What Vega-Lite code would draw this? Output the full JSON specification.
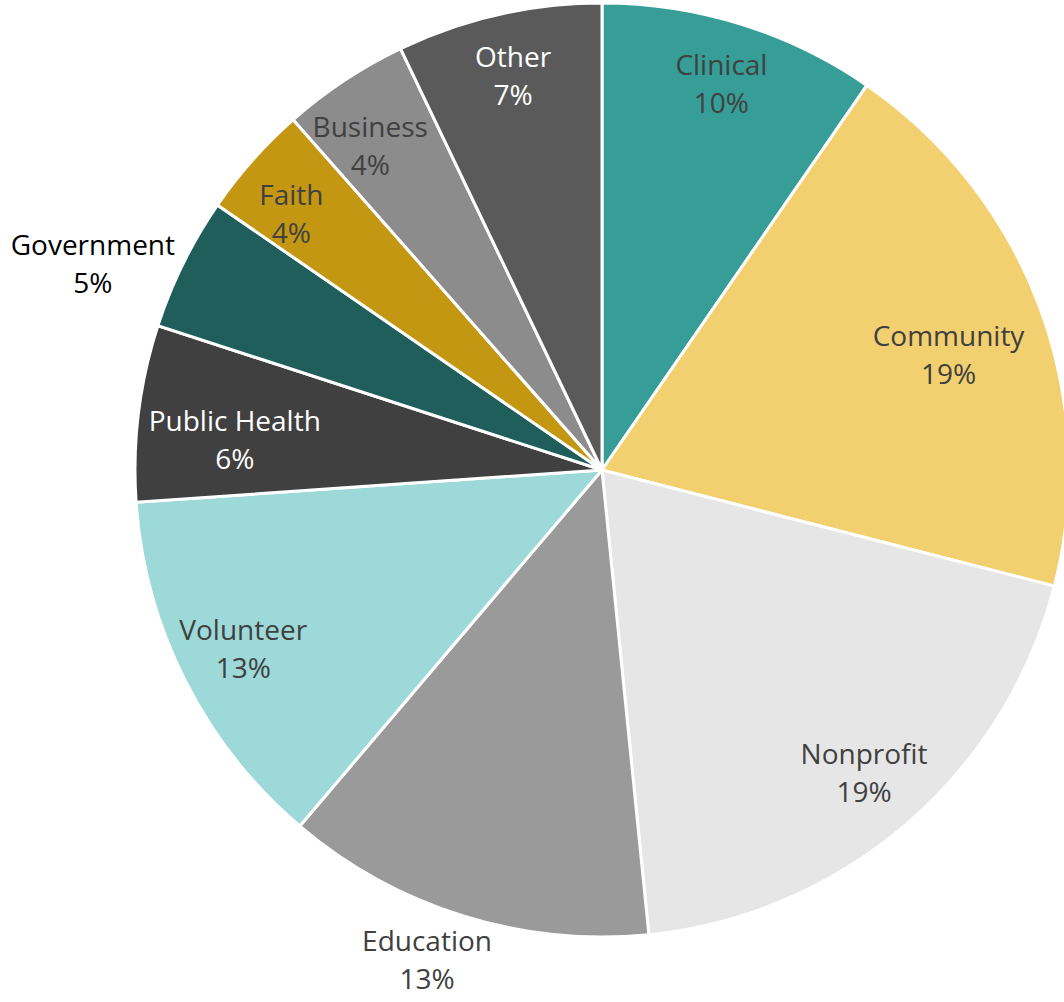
{
  "$schema": "https://vega.github.io/schema/vega-lite/v6.json",
  "width": 924,
  "height": 940,
  "autosize": "none",
  "padding": {"left": 140, "top": 0, "right": 0, "bottom": 62},
  "background": "white",
  "view": {"stroke": null},
  "data": {
    "values": [
      {"idx": 1, "name": "Clinical", "share": 0.096},
      {"idx": 2, "name": "Community", "share": 0.194},
      {"idx": 3, "name": "Nonprofit", "share": 0.194},
      {"idx": 4, "name": "Education", "share": 0.128},
      {"idx": 5, "name": "Volunteer", "share": 0.127},
      {"idx": 6, "name": "Public Health", "share": 0.061},
      {"idx": 7, "name": "Government", "share": 0.046},
      {"idx": 8, "name": "Faith", "share": 0.039},
      {"idx": 9, "name": "Business", "share": 0.044},
      {"idx": 10, "name": "Other", "share": 0.071}
    ]
  },
  "encoding": {
    "theta": {"field": "share", "type": "quantitative", "stack": true},
    "order": {"field": "idx", "type": "quantitative"}
  },
  "layer": [
    {
      "mark": {"type": "arc", "outerRadius": 467, "stroke": "white", "strokeWidth": 3},
      "encoding": {
        "color": {
          "field": "name", "type": "nominal", "legend": null,
          "scale": {
            "domain": ["Clinical", "Community", "Nonprofit", "Education", "Volunteer", "Public Health", "Government", "Faith", "Business", "Other"],
            "range": ["#369E97", "#F2D06F", "#E6E6E6", "#9A9A9A", "#9DD9D9", "#404040", "#205E5B", "#C49712", "#8C8C8C", "#5A5A5A"]
          }
        }
      }
    },
    {
      "mark": {"type": "text", "radius": 402, "dy": -19, "font": "Open Sans", "fontSize": 28, "baseline": "middle", "align": "center"},
      "encoding": {
        "text": {"condition": {"test": "indexof(['Clinical','Nonprofit','Volunteer','Other'], datum.name) < 0", "value": ""}, "field": "name"},
        "color": {"condition": {"test": "datum.name === 'Other'", "value": "#ffffff"}, "value": "#404040"}
      }
    },
    {
      "mark": {"type": "text", "radius": 402, "dy": 19, "font": "Open Sans", "fontSize": 28, "baseline": "middle", "align": "center"},
      "encoding": {
        "text": {"condition": {"test": "indexof(['Clinical','Nonprofit','Volunteer','Other'], datum.name) < 0", "value": ""}, "field": "share", "format": ".0%"},
        "color": {"condition": {"test": "datum.name === 'Other'", "value": "#ffffff"}, "value": "#404040"}
      }
    },
    {
      "mark": {"type": "text", "radius": 402, "dx": -10, "dy": -6, "font": "Open Sans", "fontSize": 28, "baseline": "middle", "align": "center", "color": "#404040"},
      "encoding": {
        "text": {"condition": {"test": "datum.name !== 'Faith' && datum.name !== 'Business'", "value": ""}, "field": "name"}
      }
    },
    {
      "mark": {"type": "text", "radius": 402, "dx": -10, "dy": 32, "font": "Open Sans", "fontSize": 28, "baseline": "middle", "align": "center", "color": "#404040"},
      "encoding": {
        "text": {"condition": {"test": "datum.name !== 'Faith' && datum.name !== 'Business'", "value": ""}, "field": "share", "format": ".0%"}
      }
    },
    {
      "mark": {"type": "text", "radius": 370, "dy": -2, "font": "Open Sans", "fontSize": 28, "baseline": "middle", "align": "center"},
      "encoding": {
        "text": {"condition": {"test": "datum.name !== 'Community' && datum.name !== 'Public Health'", "value": ""}, "field": "name"},
        "color": {"condition": {"test": "datum.name === 'Public Health'", "value": "#ffffff"}, "value": "#404040"}
      }
    },
    {
      "mark": {"type": "text", "radius": 370, "dy": 36, "font": "Open Sans", "fontSize": 28, "baseline": "middle", "align": "center"},
      "encoding": {
        "text": {"condition": {"test": "datum.name !== 'Community' && datum.name !== 'Public Health'", "value": ""}, "field": "share", "format": ".0%"},
        "color": {"condition": {"test": "datum.name === 'Public Health'", "value": "#ffffff"}, "value": "#404040"}
      }
    },
    {
      "mark": {"type": "text", "radius": 515, "dx": -22, "dy": -19, "font": "Open Sans", "fontSize": 28, "baseline": "middle", "align": "center", "color": "#404040"},
      "encoding": {
        "text": {"condition": {"test": "datum.name !== 'Education'", "value": ""}, "field": "name"}
      }
    },
    {
      "mark": {"type": "text", "radius": 515, "dx": -22, "dy": 19, "font": "Open Sans", "fontSize": 28, "baseline": "middle", "align": "center", "color": "#404040"},
      "encoding": {
        "text": {"condition": {"test": "datum.name !== 'Education'", "value": ""}, "field": "share", "format": ".0%"}
      }
    },
    {
      "mark": {"type": "text", "radius": 550, "dx": -16, "dy": 21, "font": "Open Sans", "fontSize": 28, "baseline": "middle", "align": "center", "color": "#000000"},
      "encoding": {
        "text": {"condition": {"test": "datum.name !== 'Government'", "value": ""}, "field": "name"}
      }
    },
    {
      "mark": {"type": "text", "radius": 550, "dx": -16, "dy": 59, "font": "Open Sans", "fontSize": 28, "baseline": "middle", "align": "center", "color": "#000000"},
      "encoding": {
        "text": {"condition": {"test": "datum.name !== 'Government'", "value": ""}, "field": "share", "format": ".0%"}
      }
    }
  ]
}
